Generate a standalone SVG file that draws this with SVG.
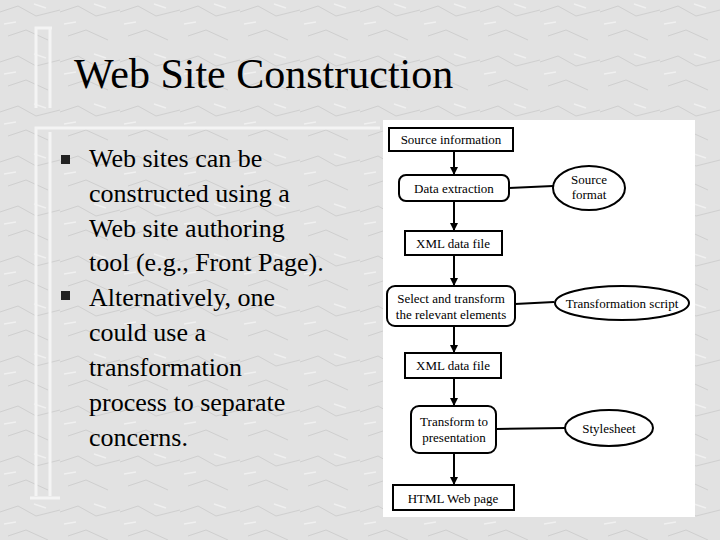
<svg xmlns="http://www.w3.org/2000/svg" width="720" height="540" viewBox="0 0 720 540">
<defs>
<marker id="ah" markerWidth="8" markerHeight="8" refX="7" refY="4" orient="auto" markerUnits="userSpaceOnUse"><path d="M0,0 L8,4 L0,8 Z" fill="#000"/></marker>
<pattern id="marble" width="60" height="50" patternUnits="userSpaceOnUse"><rect width="60" height="50" fill="#e2e2e2"/><path d="M0,12 L18,6 L36,16 L60,10 M8,36 L26,30 L48,40" stroke="#cfcfcf" stroke-width="1" fill="none"/><path d="M4,24 L16,22 M34,4 L46,8" stroke="#f0f0f0" stroke-width="1.5"/></pattern>
</defs>
<style>
.box{fill:#fff;stroke:#000;stroke-width:2}
.t{font-family:'Liberation Serif','Times New Roman','DejaVu Serif',serif;font-size:13px;fill:#000;text-anchor:middle}
.con{stroke:#000;stroke-width:2;fill:none}
.body{font-family:'Liberation Serif','Times New Roman','DejaVu Serif',serif;font-size:26px;fill:#000}
.title{font-family:'Liberation Serif','Times New Roman','DejaVu Serif',serif;font-size:42px;fill:#000}
.deco{stroke:#f4f4f4;stroke-width:3;fill:none}
</style>
<rect width="720" height="540" fill="url(#marble)"/>
<g class="deco">
<path d="M36,108 V28 H52 M50,108 V28"/>
<path d="M36,496 V128 H380 M50,496 V132"/>
<path d="M30,498 H60"/>
</g>
<text class="title" x="74" y="88">Web Site Construction</text>
<g id="bullets">
<rect x="61" y="155" width="9" height="9" fill="#222"/>
<rect x="61" y="291" width="9" height="9" fill="#222"/>
<text class="body" x="89" y="167">Web sites can be</text>
<text class="body" x="89" y="202">constructed using a</text>
<text class="body" x="89" y="237">Web site authoring</text>
<text class="body" x="89" y="271">tool (e.g., Front Page).</text>
<text class="body" x="89" y="306">Alternatively, one</text>
<text class="body" x="89" y="341">could use a</text>
<text class="body" x="89" y="376">transformation</text>
<text class="body" x="89" y="411">process to separate</text>
<text class="body" x="89" y="446">concerns.</text>
</g>
<rect x="383" y="120" width="312" height="397" fill="#fff"/>
<g id="connectors">
<line class="con" x1="454" y1="152" x2="454" y2="174" marker-end="url(#ah)"/>
<line class="con" x1="454" y1="201" x2="454" y2="230" marker-end="url(#ah)"/>
<line class="con" x1="454" y1="256" x2="454" y2="285" marker-end="url(#ah)"/>
<line class="con" x1="454" y1="327" x2="454" y2="352" marker-end="url(#ah)"/>
<line class="con" x1="454" y1="379" x2="454" y2="405" marker-end="url(#ah)"/>
<line class="con" x1="454" y1="454" x2="454" y2="484" marker-end="url(#ah)"/>
<line class="con" x1="509" y1="188" x2="553" y2="186"/>
<line class="con" x1="515" y1="304" x2="554" y2="302"/>
<line class="con" x1="496" y1="429" x2="565" y2="428"/>
</g>
<g id="n1"><rect class="box" x="389" y="128" width="124" height="23"/><text class="t" x="451" y="144">Source information</text></g>
<g id="n2"><rect class="box" x="399" y="175" width="110" height="26" rx="7"/><text class="t" x="454" y="193">Data extraction</text></g>
<g id="n3"><ellipse class="box" cx="589" cy="188" rx="36" ry="22"/><text class="t" x="589" y="184">Source</text><text class="t" x="589" y="199">format</text></g>
<g id="n4"><rect class="box" x="405" y="231" width="97" height="24"/><text class="t" x="453" y="248">XML data file</text></g>
<g id="n5"><rect class="box" x="387" y="286" width="128" height="40" rx="8"/><text class="t" x="451" y="303">Select and transform</text><text class="t" x="451" y="319">the relevant elements</text></g>
<g id="n6"><ellipse class="box" cx="622" cy="303" rx="67" ry="17"/><text class="t" x="622" y="308">Transformation script</text></g>
<g id="n7"><rect class="box" x="405" y="353" width="96" height="25"/><text class="t" x="453" y="370">XML data file</text></g>
<g id="n8"><rect class="box" x="411" y="406" width="85" height="47" rx="8"/><text class="t" x="454" y="426">Transform to</text><text class="t" x="454" y="442">presentation</text></g>
<g id="n9"><ellipse class="box" cx="609" cy="428" rx="44" ry="18"/><text class="t" x="609" y="433">Stylesheet</text></g>
<g id="n10"><rect class="box" x="393" y="485" width="121" height="25"/><text class="t" x="453" y="503">HTML Web page</text></g>
</svg>
